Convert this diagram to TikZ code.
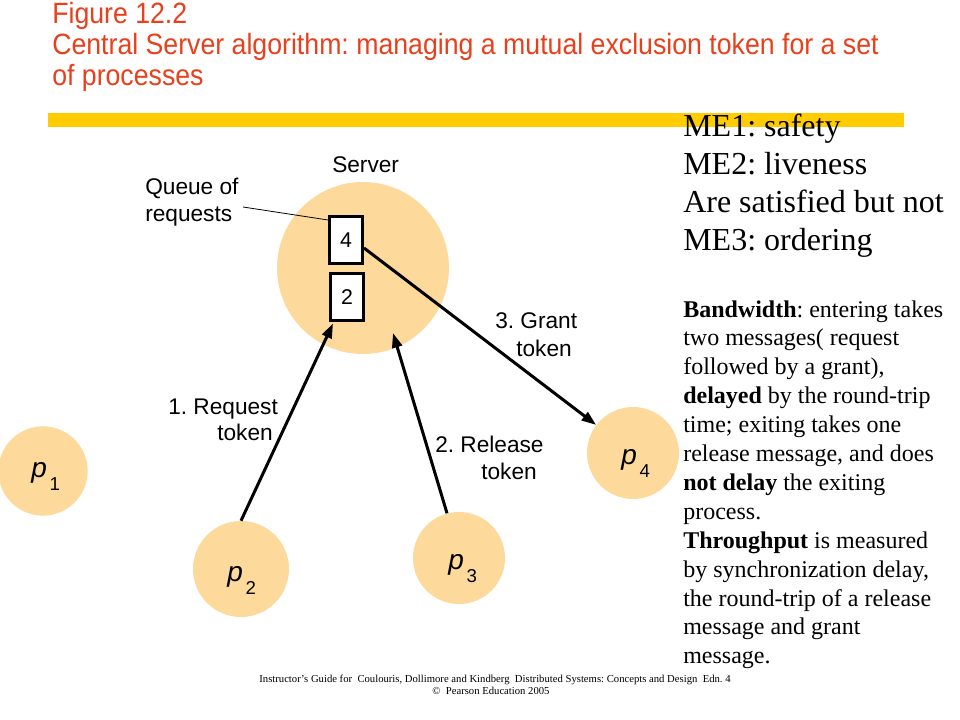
\documentclass[tikz,border=0pt]{standalone}
\usepackage{fontspec}
\setmainfont{Liberation Serif}
\setsansfont{Liberation Sans}
\newfontfamily\titlefont[FakeStretch=0.91]{Liberation Sans}
\usetikzlibrary{arrows.meta,calc}
\definecolor{titlered}{RGB}{232,64,28}
\definecolor{baryellow}{RGB}{255,204,0}
\definecolor{procfill}{RGB}{253,217,155}
\frenchspacing
\begin{document}
\frenchspacing
\begin{tikzpicture}[x=0.75pt,y=-0.75pt,
  titletxt/.style={anchor=base west,inner sep=0,text=titlered,font=\titlefont\fontsize{22}{26}\selectfont},
  lbl/.style={anchor=base west,inner sep=0,font=\sffamily\fontsize{17}{20}\selectfont},
  proc/.style={circle,fill=procfill,inner sep=0,minimum size=69pt},
  plab/.style={anchor=base west,inner sep=0,font=\sffamily\fontsize{21}{24}\selectfont},
  qbox/.style={draw,line width=2.25pt,fill=white,minimum width=24.75pt,minimum height=35.25pt,inner sep=0,font=\sffamily\fontsize{16}{20}\selectfont},
  arr/.style={line width=2.25pt,-{Triangle[length=11pt,width=7.5pt]}},
  bigtxt/.style={anchor=base west,inner sep=0,font=\fontsize{24}{28}\selectfont},
  paratxt/.style={anchor=base west,inner sep=0,font=\fontsize{18}{21.75}\selectfont},
  foottxt/.style={anchor=base,inner sep=0,font=\fontsize{8}{9}\selectfont}
]
\useasboundingbox (0,0) rectangle (960,720);
\fill[white] (0,0) rectangle (960,720);

% title
\node[titletxt] (t1) at (52,24) {Figure 12.2};
\node[titletxt] (t2) at (52,55) {Central Server algorithm: managing a mutual exclusion token for a set};
\node[titletxt] (t3) at (52,86) {of processes};
\fill[baryellow] (48,113) rectangle (904,127);

% server
\node[proc,minimum size=129pt] (server) at (363,268) {};
\node[lbl] (srvlab) at (332,173) {Server};
\node[qbox] (b4) at (346,240) {4};
\node[qbox] (b2) at (347,297) {2};
\node[lbl] (q1) at (145,195) {Queue of};
\node[lbl] (q2) at (145,222) {requests};
\coordinate (qa) at (243,207);
\draw[line width=0.6pt] (qa) -- ([yshift=-3.75pt]b4.north west);

% processes
\node[proc,minimum size=67pt] (p1) at (43,471) {};
\node[proc,minimum size=72pt] (p2) at (241,569) {};
\node[proc] (p3) at (459,558) {};
\node[proc] (p4) at (633,453) {};
\newcommand{\plabel}[1]{\textit{p}\hspace{2pt}\raisebox{-9.5pt}{\fontsize{14}{16}\selectfont #1}}
\node[plab] (l1) at (31,477.5) {\plabel{1}};
\node[plab] (l2) at (227,581.5) {\plabel{2}};
\node[plab] (l3) at (448,569.5) {\plabel{3}};
\node[plab] (l4) at (621,464.5) {\plabel{4}};

% arrows
\draw[arr] (p2.north) -- ([xshift=3pt,yshift=-1.1pt]b2.south west);
\coordinate (relin) at (393,333);
\draw[arr] (p3.105) -- (relin);
\draw[arr] ([yshift=-6pt]b4.east) -- (p4);

% arrow labels
\node[lbl] (a1a) at (168,414) {1. Request};
\node[lbl] (a1b) at (217,440) {token};
\node[lbl] (a2a) at (435,452) {2. Release};
\node[lbl] (a2b) at (481,479) {token};
\node[lbl] (a3a) at (495,329) {3. Grant};
\node[lbl] (a3b) at (516,356) {token};

% right text
\node[bigtxt] (m1) at (683,137) {ME1: safety};
\node[bigtxt] (m2) at (683,175) {ME2: liveness};
\node[bigtxt] (m3) at (683,213) {Are satisfied but not};
\node[bigtxt] (m4) at (683,251) {ME3: ordering};

\foreach \txt [count=\i] in {
  {\textbf{Bandwidth}: entering takes},
  {two messages( request},
  {followed by a grant),},
  {\textbf{delayed} by the round-trip},
  {time; exiting takes one},
  {release message, and does},
  {\textbf{not delay} the exiting},
  {process.},
  {\textbf{Throughput} is measured},
  {by synchronization delay,},
  {the round-trip of a release},
  {message and grant},
  {message.}}
  \node[paratxt] (pl\i) at (683,{317+28.9*(\i-1)}) {\txt};

% footer
\node[foottxt] (f1) at (495,682) {Instructor's Guide for\ \ Coulouris, Dollimore and Kindberg\ \ Distributed Systems: Concepts and Design\ \ Edn. 4};
\node[foottxt] (f2) at (491,694) {\textcopyright\ \ Pearson Education 2005};
\end{tikzpicture}
\end{document}
